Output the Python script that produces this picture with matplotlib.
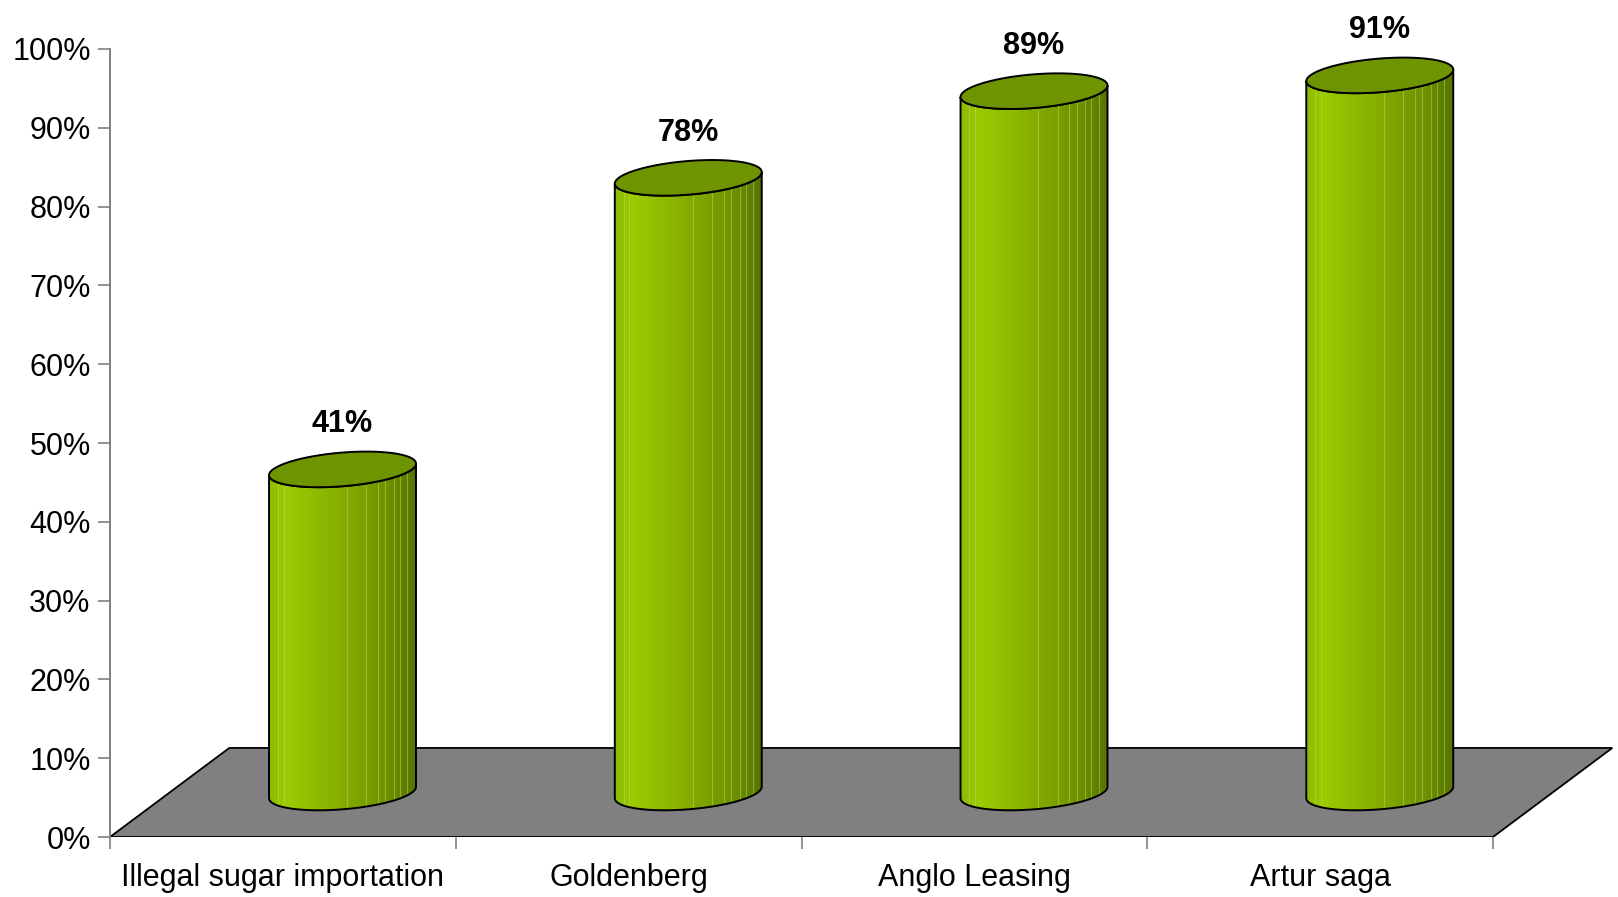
import numpy as np
import matplotlib.pyplot as plt
from matplotlib.patches import Polygon
from matplotlib.colors import LinearSegmentedColormap

plt.rcParams['font.family'] = ['Liberation Sans', 'DejaVu Sans']

# --- data ---
categories = ['Illegal sugar importation', 'Goldenberg', 'Anglo Leasing', 'Artur saga']
values = [0.41, 0.78, 0.89, 0.91]
value_labels = ['41%', '78%', '89%', '91%']
y_ticks = [0.0, 0.1, 0.2, 0.3, 0.4, 0.5, 0.6, 0.7, 0.8, 0.9, 1.0]
y_tick_labels = ['0%', '10%', '20%', '30%', '40%', '50%', '60%', '70%', '80%', '90%', '100%']

# --- 3d look parameters ---
DX, DY = 0.345, 0.113      # floor depth (x in category units, y in value units)
RX = 0.201                 # cylinder radius along x
RD = 0.2                   # cylinder radius along depth (fraction of floor depth)
GRAY = '#808080'
TOP_COLOR = '#6E9500'
side_cmap = LinearSegmentedColormap.from_list(
    'side', [(0.0, '#8CBB00'), (0.12, '#9BCB00'), (0.5, '#85AD00'),
             (0.8, '#6F9200'), (1.0, '#577400')])
streaks = [0.06, 0.1, 0.53, 0.66, 0.74, 0.79, 0.85, 0.89, 0.94]

W, H = 1618, 897
fig = plt.figure(figsize=(W / 100, H / 100), dpi=100)
ax = fig.add_axes([110 / W, 60 / H, 1508 / W, 788 / H])
ax.set_xlim(0, 1508 / 345.75)
ax.set_ylim(0, 1)

n = len(categories)

# floor
floor = Polygon([(0, 0), (n, 0), (n + DX, DY), (DX, DY)], closed=True,
                facecolor=GRAY, edgecolor='black', lw=1.3, zorder=1)
ax.add_patch(floor)


def ellipse(xc, yc, th):
    return np.column_stack([xc + RX * np.cos(th) + RD * DX * np.sin(th),
                            yc + RD * DY * np.sin(th)])


th_r = np.arctan2(RD * DX, RX)
th_l = th_r + np.pi
half_w = np.hypot(RX, RD * DX)

for i, (v, lab) in enumerate(zip(values, value_labels)):
    xc = i + 0.5 + DX / 2
    yb = DY / 2
    yt = v + DY / 2
    front = ellipse(xc, yb, np.linspace(th_l, th_r + 2 * np.pi, 120))
    back_top = ellipse(xc, yt, np.linspace(th_r + 2 * np.pi, th_l, 120))
    body = Polygon(np.vstack([front, back_top]), closed=True,
                   facecolor='none', edgecolor='black', lw=1.4, zorder=4)
    ax.add_patch(body)

    x0, x1 = xc - half_w, xc + half_w
    im = ax.imshow(np.linspace(0, 1, 256).reshape(1, -1), cmap=side_cmap,
                   extent=[x0, x1, 0, yt + DY], aspect='auto',
                   interpolation='bilinear', zorder=2)
    im.set_clip_path(body)
    for f in streaks:
        ln, = ax.plot([x0 + f * (x1 - x0)] * 2, [0, yt], color='#C4E060',
                      lw=0.8, alpha=0.45, zorder=3)
        ln.set_clip_path(body)

    top = Polygon(ellipse(xc, yt, np.linspace(0, 2 * np.pi, 160)), closed=True,
                  facecolor=TOP_COLOR, edgecolor='black', lw=1.4, zorder=5)
    ax.add_patch(top)

    ax.text(xc, yt + 0.047, lab, ha='center', va='baseline', fontsize=22,
            fontweight='bold', clip_on=False, zorder=6)

# axes styling
for s in ['top', 'right', 'bottom']:
    ax.spines[s].set_visible(False)
ax.spines['left'].set_color(GRAY)
ax.spines['left'].set_linewidth(1.4)

ax.set_yticks(y_ticks, y_tick_labels)
ax.tick_params(axis='y', length=8.9, width=1.2, color=GRAY, pad=5, labelsize=22)

ax.set_xticks(range(n + 1), [''] * (n + 1))
ax.set_xticks([i + 0.5 for i in range(n)], categories, minor=True)
ax.tick_params(axis='x', which='major', length=8.9, width=1.2, color=GRAY)
ax.tick_params(axis='x', which='minor', length=0, pad=18.5, labelsize=22)

fig.savefig('out.png', dpi=100)
